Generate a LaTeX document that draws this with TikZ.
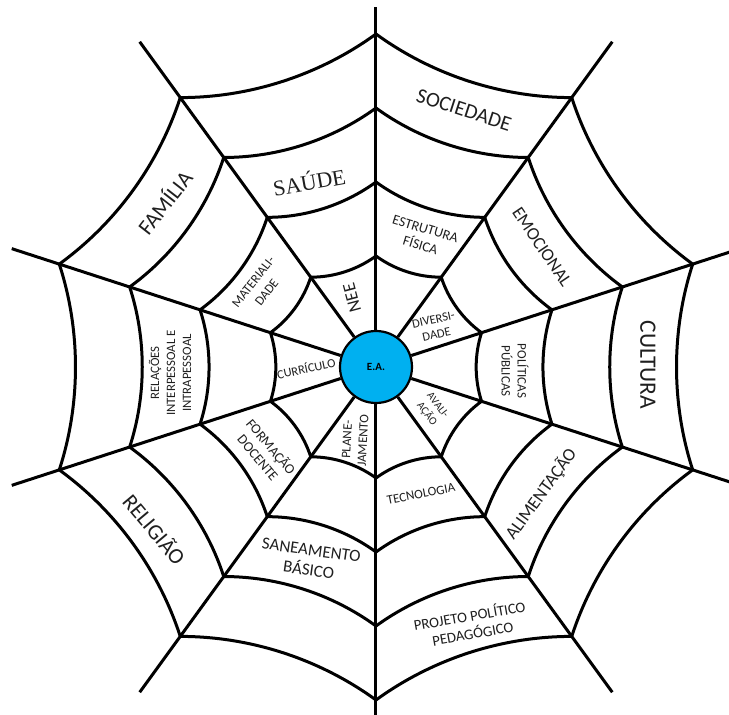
\documentclass[tikz,border=0pt]{standalone}
\usepackage{fontspec}
\setmainfont{Carlito}
\newfontfamily\serifs{Liberation Serif}
\definecolor{eablue}{HTML}{00B0F0}
\begin{document}
\begin{tikzpicture}[x=1pt,y=1pt,
  web/.style={line width=3pt, line join=round},
  lab/.style={align=center, inner sep=0pt, text=black!88},
  fs/.style 2 args={font=\fontsize{#1}{#2}\selectfont}]
\useasboundingbox (-376,-348) rectangle (353,367);
\clip (-376,-348) rectangle (353,367);
% vertices
\foreach \k/\L in {0/360,1/402,2/383,3/383,4/402,5/360,6/402,7/383,8/383,9/402}{
  \pgfmathtruncatemacro\a{mod(90+36*\k,360)}
  \coordinate (e\k) at (\a:\L pt);
  \foreach \j/\r in {1/111,2/185,3/259,4/333}{
    \coordinate (v\k-\j) at (\a:\r pt);
  }
}
% rings
\foreach \k in {0,...,9}{
  \pgfmathtruncatemacro\kn{mod(\k+1,10)}
  \foreach \j in {1,2,3,4}{
    \draw[web] (v\k-\j) to[bend left=18, looseness=0.87] (v\kn-\j);
  }
}
\node[circle, draw, line width=2.2pt, fill=eablue, minimum size=72pt, inner sep=0pt,
  font=\bfseries\fontsize{11}{12}\selectfont] (E) at (0,0) {E.A.};
% spokes
\foreach \k in {0,...,9}{
  \pgfmathtruncatemacro\a{mod(90+36*\k,360)}
  \draw[web] (E.\a) -- (e\k);
}
% labels
\node[lab, fs={21}{25}, rotate=-18] (soc) at (88,257) {SOCIEDADE};
\node[lab, rotate=10, font=\serifs\fontsize{22}{26}\selectfont] (sau) at (-67,186) {SAÚDE};
\node[lab, fs={22}{26}, rotate=52] (fam) at (-212,165) {FAMÍLIA};
\node[lab, fs={18}{22}, rotate=-56] (emo) at (166,120) {EMOCIONAL};
\node[lab, fs={23.5}{26}, rotate=-90] (cul) at (272,2) {CULTURA};
\node[lab, fs={13}{16}, rotate=-90] (pol) at (139,-4) {POLÍTICAS\\PÚBLICAS};
\node[lab, fs={12.8}{16}, rotate=90] (rel) at (-206,-6) {RELAÇÕES\\INTERPESSOAL E\\INTRAPESSOAL};
\node[lab, fs={12.5}{14}, rotate=12] (cur) at (-70,-1) {CURRÍCULO};
\node[lab, fs={12.5}{15}, rotate=12] (div) at (59,40) {DIVERSI-\\DADE};
\node[lab, fs={18}{22}, rotate=105] (nee) at (-24,69) {NEE};
\node[lab, fs={13}{17}, rotate=52] (mat) at (-116,80) {MATERIALI-\\DADE};
\node[lab, fs={14}{17}, rotate=-17] (est) at (47,130) {ESTRUTURA\\FÍSICA};
\node[lab, fs={11}{14}, rotate=-52] (ava) at (56,-43) {AVALI-\\AÇÃO};
\node[lab, fs={13}{16}, rotate=87] (pla) at (-21,-73) {PLANE-\\JAMENTO};
\node[lab, fs={14}{17}, rotate=-50] (for) at (-111,-85) {FORMAÇÃO\\DOCENTE};
\node[lab, fs={22}{26}, rotate=-50] (reli) at (-221,-162) {RELIGIÃO};
\node[lab, fs={13}{16}, rotate=11] (tec) at (45,-127) {TECNOLOGIA};
\node[lab, fs={18}{22}, rotate=54] (ali) at (165,-127) {ALIMENTAÇÃO};
\node[lab, fs={17}{20}, rotate=-8] (san) at (-66,-193) {SANEAMENTO\\BÁSICO};
\node[lab, fs={14.8}{18}, rotate=10] (pro) at (95,-257) {PROJETO POLÍTICO\\PEDAGÓGICO};
\end{tikzpicture}
\end{document}
